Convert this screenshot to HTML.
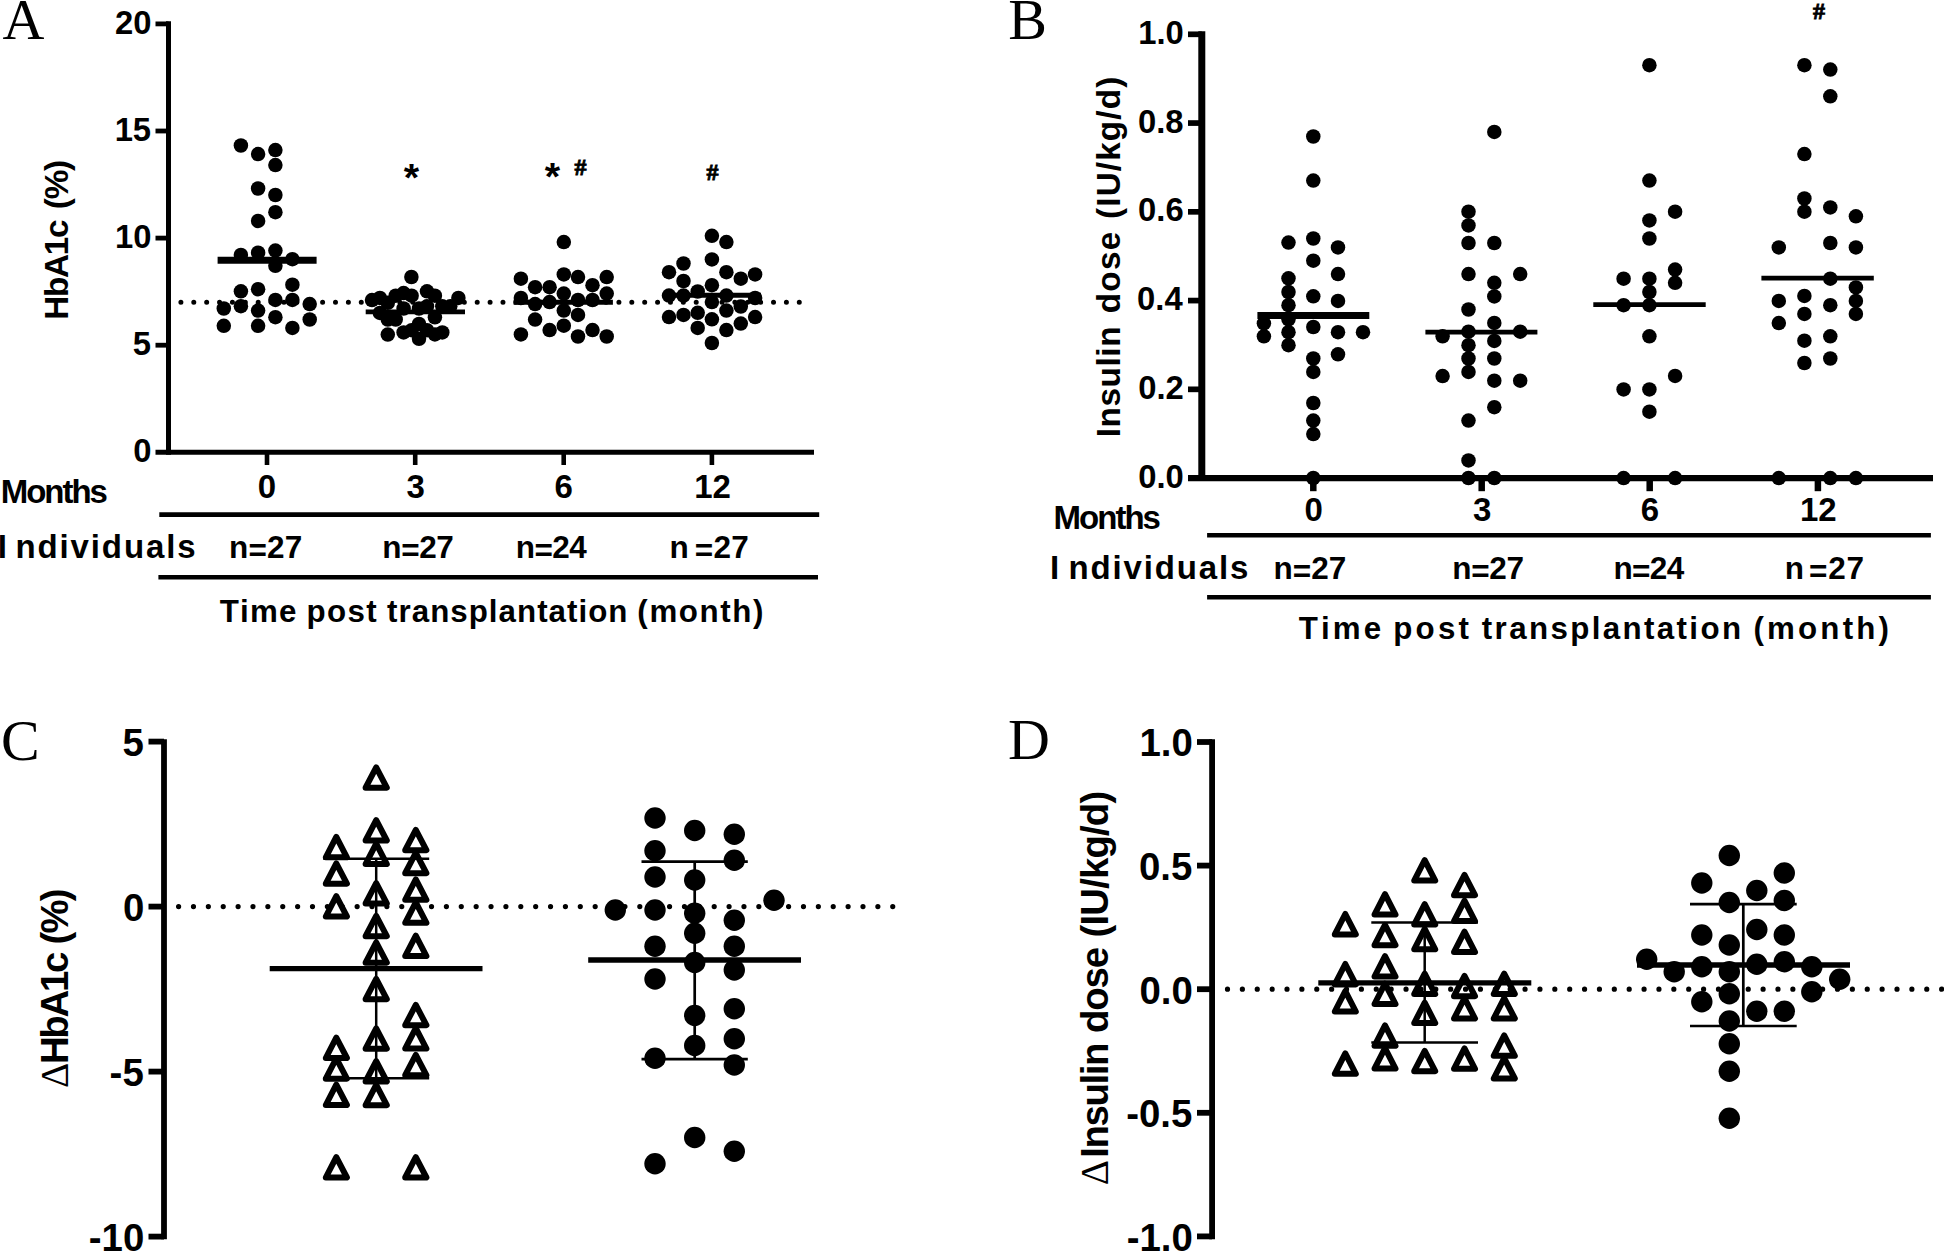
<!DOCTYPE html>
<html lang="en"><head><meta charset="utf-8"><title>Figure</title>
<style>
html,body{margin:0;padding:0;background:#fff}
svg{display:block}
text{fill:#000;font-kerning:none;white-space:pre}
line{stroke:#000}
</style></head><body>
<svg width="1944" height="1251" viewBox="0 0 1944 1251">
<rect width="1944" height="1251" fill="#fff"/>
<!-- Panel A -->
<text x="2.43" y="38.70" style="font-family:'Liberation Serif',serif;font-weight:normal;font-size:58px;letter-spacing:0.000px">A</text>
<line x1="168.50" y1="21.30" x2="168.50" y2="454.80" stroke-width="5"/>
<line x1="155.50" y1="452.30" x2="814.00" y2="452.30" stroke-width="5"/>
<line x1="155.50" y1="23.90" x2="168.50" y2="23.90" stroke-width="4.8"/>
<text x="115.06" y="34.00" style="font-family:'Liberation Sans',sans-serif;font-weight:bold;font-size:32.8px;letter-spacing:0.000px">20</text>
<line x1="155.50" y1="131.00" x2="168.50" y2="131.00" stroke-width="4.8"/>
<text x="114.63" y="141.10" style="font-family:'Liberation Sans',sans-serif;font-weight:bold;font-size:32.8px;letter-spacing:0.000px">15</text>
<line x1="155.50" y1="238.10" x2="168.50" y2="238.10" stroke-width="4.8"/>
<text x="115.06" y="248.20" style="font-family:'Liberation Sans',sans-serif;font-weight:bold;font-size:32.8px;letter-spacing:0.000px">10</text>
<line x1="155.50" y1="345.20" x2="168.50" y2="345.20" stroke-width="4.8"/>
<text x="132.87" y="355.30" style="font-family:'Liberation Sans',sans-serif;font-weight:bold;font-size:32.8px;letter-spacing:0.000px">5</text>
<text x="133.30" y="462.40" style="font-family:'Liberation Sans',sans-serif;font-weight:bold;font-size:32.8px;letter-spacing:0.000px">0</text>
<line x1="267.00" y1="452.30" x2="267.00" y2="465.00" stroke-width="4.6"/>
<line x1="415.20" y1="452.30" x2="415.20" y2="465.00" stroke-width="4.6"/>
<line x1="563.70" y1="452.30" x2="563.70" y2="465.00" stroke-width="4.6"/>
<line x1="711.90" y1="452.30" x2="711.90" y2="465.00" stroke-width="4.6"/>
<text transform="translate(68.20,0) rotate(-90)" y="0" style="font-family:'Liberation Sans',sans-serif;font-weight:bold;font-size:33.3px"><tspan x="-319.83" style="letter-spacing:-1.293px">HbA1c </tspan><tspan x="-209.26" style="letter-spacing:-1.185px">(%)</tspan></text>
<line x1="180.90" y1="302.20" x2="801.00" y2="302.20" stroke-width="5.0" stroke-linecap="round" stroke-dasharray="0 12.883"/>
<g><circle cx="240.9" cy="145.5" r="7.25"/><circle cx="258.1" cy="154.1" r="7.25"/><circle cx="275.4" cy="150.1" r="7.25"/><circle cx="275.4" cy="165.1" r="7.25"/><circle cx="258.1" cy="188.5" r="7.25"/><circle cx="275.4" cy="195.0" r="7.25"/><circle cx="275.4" cy="212.2" r="7.25"/><circle cx="258.1" cy="220.9" r="7.25"/><circle cx="240.9" cy="255.0" r="7.25"/><circle cx="258.1" cy="252.7" r="7.25"/><circle cx="275.4" cy="250.6" r="7.25"/><circle cx="292.4" cy="259.2" r="7.25"/><circle cx="275.4" cy="265.8" r="7.25"/><circle cx="292.4" cy="284.7" r="7.25"/><circle cx="258.1" cy="289.2" r="7.25"/><circle cx="240.9" cy="291.3" r="7.25"/><circle cx="275.4" cy="299.9" r="7.25"/><circle cx="292.4" cy="299.9" r="7.25"/><circle cx="309.7" cy="304.1" r="7.25"/><circle cx="240.9" cy="306.2" r="7.25"/><circle cx="223.8" cy="308.5" r="7.25"/><circle cx="258.1" cy="310.6" r="7.25"/><circle cx="275.4" cy="317.2" r="7.25"/><circle cx="309.7" cy="319.5" r="7.25"/><circle cx="223.8" cy="325.8" r="7.25"/><circle cx="258.1" cy="325.8" r="7.25"/><circle cx="292.4" cy="327.9" r="7.25"/><circle cx="411.4" cy="277.0" r="7.25"/><circle cx="403.6" cy="293.1" r="7.25"/><circle cx="395.7" cy="295.7" r="7.25"/><circle cx="411.6" cy="295.7" r="7.25"/><circle cx="379.9" cy="297.9" r="7.25"/><circle cx="372.0" cy="300.1" r="7.25"/><circle cx="427.0" cy="291.3" r="7.25"/><circle cx="434.9" cy="295.7" r="7.25"/><circle cx="458.4" cy="297.9" r="7.25"/><circle cx="387.8" cy="302.8" r="7.25"/><circle cx="403.6" cy="308.5" r="7.25"/><circle cx="419.0" cy="308.5" r="7.25"/><circle cx="427.0" cy="306.3" r="7.25"/><circle cx="442.3" cy="306.3" r="7.25"/><circle cx="450.3" cy="306.3" r="7.25"/><circle cx="379.9" cy="312.9" r="7.25"/><circle cx="387.8" cy="319.5" r="7.25"/><circle cx="395.7" cy="319.5" r="7.25"/><circle cx="434.9" cy="317.3" r="7.25"/><circle cx="419.0" cy="323.9" r="7.25"/><circle cx="387.8" cy="334.6" r="7.25"/><circle cx="403.6" cy="332.4" r="7.25"/><circle cx="411.6" cy="330.2" r="7.25"/><circle cx="419.0" cy="338.8" r="7.25"/><circle cx="427.0" cy="330.2" r="7.25"/><circle cx="434.9" cy="334.4" r="7.25"/><circle cx="442.3" cy="332.4" r="7.25"/><circle cx="563.8" cy="242.1" r="7.25"/><circle cx="520.9" cy="278.7" r="7.25"/><circle cx="563.8" cy="274.4" r="7.25"/><circle cx="578.0" cy="277.1" r="7.25"/><circle cx="606.7" cy="277.1" r="7.25"/><circle cx="535.1" cy="287.2" r="7.25"/><circle cx="549.6" cy="287.2" r="7.25"/><circle cx="592.5" cy="285.2" r="7.25"/><circle cx="563.8" cy="293.6" r="7.25"/><circle cx="606.7" cy="293.6" r="7.25"/><circle cx="520.9" cy="298.0" r="7.25"/><circle cx="578.0" cy="300.0" r="7.25"/><circle cx="592.5" cy="300.0" r="7.25"/><circle cx="549.6" cy="302.1" r="7.25"/><circle cx="535.1" cy="304.1" r="7.25"/><circle cx="563.8" cy="310.6" r="7.25"/><circle cx="578.0" cy="314.9" r="7.25"/><circle cx="535.1" cy="319.6" r="7.25"/><circle cx="563.8" cy="325.7" r="7.25"/><circle cx="549.6" cy="330.1" r="7.25"/><circle cx="592.5" cy="330.1" r="7.25"/><circle cx="520.9" cy="334.4" r="7.25"/><circle cx="578.0" cy="336.5" r="7.25"/><circle cx="606.7" cy="336.5" r="7.25"/><circle cx="711.9" cy="235.8" r="7.25"/><circle cx="726.4" cy="242.1" r="7.25"/><circle cx="711.9" cy="259.4" r="7.25"/><circle cx="683.5" cy="263.5" r="7.25"/><circle cx="669.0" cy="272.2" r="7.25"/><circle cx="726.4" cy="272.2" r="7.25"/><circle cx="755.1" cy="274.4" r="7.25"/><circle cx="740.8" cy="278.7" r="7.25"/><circle cx="683.5" cy="281.0" r="7.25"/><circle cx="711.9" cy="285.2" r="7.25"/><circle cx="697.7" cy="291.5" r="7.25"/><circle cx="669.0" cy="295.6" r="7.25"/><circle cx="683.5" cy="295.6" r="7.25"/><circle cx="726.4" cy="295.6" r="7.25"/><circle cx="755.1" cy="298.0" r="7.25"/><circle cx="711.9" cy="302.1" r="7.25"/><circle cx="740.8" cy="306.5" r="7.25"/><circle cx="726.4" cy="310.6" r="7.25"/><circle cx="697.7" cy="312.8" r="7.25"/><circle cx="683.5" cy="314.9" r="7.25"/><circle cx="669.0" cy="317.1" r="7.25"/><circle cx="755.1" cy="317.1" r="7.25"/><circle cx="711.9" cy="319.3" r="7.25"/><circle cx="740.8" cy="323.6" r="7.25"/><circle cx="697.7" cy="327.9" r="7.25"/><circle cx="726.4" cy="330.1" r="7.25"/><circle cx="711.9" cy="343.0" r="7.25"/></g>
<line x1="217.60" y1="260.20" x2="316.60" y2="260.20" stroke-width="7"/>
<line x1="365.70" y1="311.80" x2="465.00" y2="311.80" stroke-width="4.8"/>
<line x1="513.60" y1="302.20" x2="612.90" y2="302.20" stroke-width="4.9"/>
<line x1="663.00" y1="295.20" x2="761.00" y2="295.20" stroke-width="4.9"/>
<text x="403.78" y="190.90" style="font-family:'Liberation Sans',sans-serif;font-weight:bold;font-size:39.5px;letter-spacing:0.000px">*</text>
<text x="544.68" y="190.10" style="font-family:'Liberation Sans',sans-serif;font-weight:bold;font-size:39.5px;letter-spacing:0.000px">*</text>
<text x="574.58" y="175.40" style="font-family:'Liberation Serif',serif;font-weight:bold;stroke:#000;stroke-width:0.9px;font-size:24px;letter-spacing:0.000px">#</text>
<text x="706.48" y="179.90" style="font-family:'Liberation Serif',serif;font-weight:bold;stroke:#000;stroke-width:0.9px;font-size:24px;letter-spacing:0.000px">#</text>
<text x="257.85" y="498.30" style="font-family:'Liberation Sans',sans-serif;font-weight:bold;font-size:33px;letter-spacing:0.000px">0</text>
<text x="406.54" y="498.30" style="font-family:'Liberation Sans',sans-serif;font-weight:bold;font-size:33px;letter-spacing:0.000px">3</text>
<text x="554.52" y="498.30" style="font-family:'Liberation Sans',sans-serif;font-weight:bold;font-size:33px;letter-spacing:0.000px">6</text>
<text x="694.27" y="498.30" style="font-family:'Liberation Sans',sans-serif;font-weight:bold;font-size:33px;letter-spacing:0.000px">12</text>
<text x="0.69" y="502.50" style="font-family:'Liberation Sans',sans-serif;font-weight:bold;font-size:33px;letter-spacing:-2.009px">Months</text>
<line x1="159.30" y1="514.60" x2="819.20" y2="514.60" stroke-width="4.6"/>
<line x1="158.40" y1="577.20" x2="818.00" y2="577.20" stroke-width="4.6"/>
<text y="558.00" style="font-family:'Liberation Sans',sans-serif;font-weight:bold;font-size:33px"><tspan x="-2.21" style="letter-spacing:0.000px">I</tspan><tspan x="15.52" style="letter-spacing:1.870px">ndividuals</tspan></text>
<text x="229.02" y="558.00" style="font-family:'Liberation Sans',sans-serif;font-weight:bold;font-size:31.5px;letter-spacing:0.162px">n<tspan dy="3.2">=</tspan><tspan dy="-3.2">27</tspan></text>
<text x="382.32" y="558.00" style="font-family:'Liberation Sans',sans-serif;font-weight:bold;font-size:31.5px;letter-spacing:-0.405px">n<tspan dy="3.2">=</tspan><tspan dy="-3.2">27</tspan></text>
<text x="515.82" y="558.00" style="font-family:'Liberation Sans',sans-serif;font-weight:bold;font-size:31.5px;letter-spacing:-0.610px">n<tspan dy="3.2">=</tspan><tspan dy="-3.2">24</tspan></text>
<text y="558.00" style="font-family:'Liberation Sans',sans-serif;font-weight:bold;font-size:31.5px"><tspan x="669.52" style="letter-spacing:0.000px">n </tspan><tspan x="694.69" style="letter-spacing:0.279px"><tspan dy="3.2">=</tspan><tspan dy="-3.2">27</tspan></tspan></text>
<text y="622.40" style="font-family:'Liberation Sans',sans-serif;font-weight:bold;font-size:31.3px"><tspan x="219.75" style="letter-spacing:1.189px">Time </tspan><tspan x="306.44" style="letter-spacing:1.392px">post </tspan><tspan x="387.12" style="letter-spacing:1.018px">transplantation </tspan><tspan x="637.34" style="letter-spacing:1.627px">(month)</tspan></text>
<!-- Panel B -->
<text x="1008.33" y="38.70" style="font-family:'Liberation Serif',serif;font-weight:normal;font-size:58px;letter-spacing:0.000px">B</text>
<line x1="1201.80" y1="31.30" x2="1201.80" y2="481.10" stroke-width="7"/>
<line x1="1188.00" y1="478.10" x2="1933.00" y2="478.10" stroke-width="6.2"/>
<line x1="1188.00" y1="34.30" x2="1201.80" y2="34.30" stroke-width="5.7"/>
<text x="1138.25" y="43.90" style="font-family:'Liberation Sans',sans-serif;font-weight:bold;font-size:32.8px;letter-spacing:0.000px">1.0</text>
<line x1="1188.00" y1="123.06" x2="1201.80" y2="123.06" stroke-width="5.7"/>
<text x="1137.91" y="132.66" style="font-family:'Liberation Sans',sans-serif;font-weight:bold;font-size:32.8px;letter-spacing:0.000px">0.8</text>
<line x1="1188.00" y1="211.82" x2="1201.80" y2="211.82" stroke-width="5.7"/>
<text x="1138.09" y="221.42" style="font-family:'Liberation Sans',sans-serif;font-weight:bold;font-size:32.8px;letter-spacing:0.000px">0.6</text>
<line x1="1188.00" y1="300.58" x2="1201.80" y2="300.58" stroke-width="5.7"/>
<text x="1137.08" y="310.18" style="font-family:'Liberation Sans',sans-serif;font-weight:bold;font-size:32.8px;letter-spacing:0.000px">0.4</text>
<line x1="1188.00" y1="389.34" x2="1201.80" y2="389.34" stroke-width="5.7"/>
<text x="1138.22" y="398.94" style="font-family:'Liberation Sans',sans-serif;font-weight:bold;font-size:32.8px;letter-spacing:0.000px">0.2</text>
<text x="1138.25" y="487.70" style="font-family:'Liberation Sans',sans-serif;font-weight:bold;font-size:32.8px;letter-spacing:0.000px">0.0</text>
<line x1="1313.30" y1="478.10" x2="1313.30" y2="491.20" stroke-width="6.5"/>
<line x1="1481.70" y1="478.10" x2="1481.70" y2="491.20" stroke-width="6.5"/>
<line x1="1649.70" y1="478.10" x2="1649.70" y2="491.20" stroke-width="6.5"/>
<line x1="1817.90" y1="478.10" x2="1817.90" y2="491.20" stroke-width="6.5"/>
<text transform="translate(1119.80,0) rotate(-90)" y="0" style="font-family:'Liberation Sans',sans-serif;font-weight:bold;font-size:33.3px"><tspan x="-437.33" style="letter-spacing:0.599px">Insulin </tspan><tspan x="-313.27" style="letter-spacing:1.261px">dose </tspan><tspan x="-218.96" style="letter-spacing:1.129px">(IU/kg/d)</tspan></text>
<g><circle cx="1313.3" cy="136.5" r="7.25"/><circle cx="1313.3" cy="180.6" r="7.25"/><circle cx="1288.5" cy="242.6" r="7.25"/><circle cx="1313.3" cy="238.5" r="7.25"/><circle cx="1338.0" cy="247.4" r="7.25"/><circle cx="1313.3" cy="260.7" r="7.25"/><circle cx="1288.5" cy="278.3" r="7.25"/><circle cx="1338.0" cy="274.1" r="7.25"/><circle cx="1288.5" cy="292.0" r="7.25"/><circle cx="1313.3" cy="296.3" r="7.25"/><circle cx="1338.0" cy="300.9" r="7.25"/><circle cx="1288.5" cy="305.2" r="7.25"/><circle cx="1288.5" cy="319.3" r="7.25"/><circle cx="1263.9" cy="323.3" r="7.25"/><circle cx="1313.3" cy="327.0" r="7.25"/><circle cx="1288.5" cy="332.2" r="7.25"/><circle cx="1338.0" cy="332.2" r="7.25"/><circle cx="1363.0" cy="332.2" r="7.25"/><circle cx="1263.9" cy="336.3" r="7.25"/><circle cx="1288.5" cy="345.2" r="7.25"/><circle cx="1338.0" cy="354.3" r="7.25"/><circle cx="1313.3" cy="358.5" r="7.25"/><circle cx="1313.3" cy="371.9" r="7.25"/><circle cx="1313.3" cy="403.0" r="7.25"/><circle cx="1313.3" cy="420.6" r="7.25"/><circle cx="1313.3" cy="434.1" r="7.25"/><circle cx="1313.3" cy="478.0" r="7.25"/><circle cx="1494.3" cy="131.9" r="7.25"/><circle cx="1468.5" cy="211.7" r="7.25"/><circle cx="1468.5" cy="225.4" r="7.25"/><circle cx="1468.5" cy="243.0" r="7.25"/><circle cx="1494.3" cy="243.0" r="7.25"/><circle cx="1468.5" cy="274.1" r="7.25"/><circle cx="1520.2" cy="274.1" r="7.25"/><circle cx="1494.3" cy="282.8" r="7.25"/><circle cx="1494.3" cy="296.4" r="7.25"/><circle cx="1468.5" cy="309.5" r="7.25"/><circle cx="1494.3" cy="322.9" r="7.25"/><circle cx="1468.5" cy="331.7" r="7.25"/><circle cx="1520.2" cy="331.7" r="7.25"/><circle cx="1442.6" cy="336.3" r="7.25"/><circle cx="1494.3" cy="340.9" r="7.25"/><circle cx="1468.5" cy="345.2" r="7.25"/><circle cx="1468.5" cy="358.5" r="7.25"/><circle cx="1494.3" cy="358.5" r="7.25"/><circle cx="1468.5" cy="371.9" r="7.25"/><circle cx="1442.6" cy="376.1" r="7.25"/><circle cx="1494.3" cy="380.7" r="7.25"/><circle cx="1520.2" cy="380.7" r="7.25"/><circle cx="1494.3" cy="407.2" r="7.25"/><circle cx="1468.5" cy="420.6" r="7.25"/><circle cx="1468.5" cy="460.4" r="7.25"/><circle cx="1468.5" cy="478.0" r="7.25"/><circle cx="1494.3" cy="478.0" r="7.25"/><circle cx="1649.4" cy="65.2" r="7.25"/><circle cx="1649.4" cy="180.6" r="7.25"/><circle cx="1675.1" cy="211.7" r="7.25"/><circle cx="1649.4" cy="220.4" r="7.25"/><circle cx="1649.4" cy="238.5" r="7.25"/><circle cx="1675.1" cy="269.6" r="7.25"/><circle cx="1623.6" cy="278.7" r="7.25"/><circle cx="1649.4" cy="278.7" r="7.25"/><circle cx="1675.1" cy="282.8" r="7.25"/><circle cx="1649.4" cy="292.0" r="7.25"/><circle cx="1623.6" cy="305.2" r="7.25"/><circle cx="1649.4" cy="305.2" r="7.25"/><circle cx="1649.4" cy="336.3" r="7.25"/><circle cx="1675.1" cy="375.9" r="7.25"/><circle cx="1623.6" cy="389.4" r="7.25"/><circle cx="1649.4" cy="389.4" r="7.25"/><circle cx="1649.4" cy="411.7" r="7.25"/><circle cx="1623.6" cy="478.1" r="7.25"/><circle cx="1675.1" cy="478.1" r="7.25"/><circle cx="1804.4" cy="65.2" r="7.25"/><circle cx="1830.3" cy="69.6" r="7.25"/><circle cx="1830.3" cy="96.3" r="7.25"/><circle cx="1804.4" cy="154.1" r="7.25"/><circle cx="1804.4" cy="198.5" r="7.25"/><circle cx="1830.3" cy="207.4" r="7.25"/><circle cx="1804.4" cy="211.7" r="7.25"/><circle cx="1855.9" cy="216.3" r="7.25"/><circle cx="1778.8" cy="247.4" r="7.25"/><circle cx="1830.3" cy="243.0" r="7.25"/><circle cx="1855.9" cy="247.4" r="7.25"/><circle cx="1830.3" cy="278.7" r="7.25"/><circle cx="1855.9" cy="287.4" r="7.25"/><circle cx="1804.4" cy="295.9" r="7.25"/><circle cx="1778.8" cy="300.9" r="7.25"/><circle cx="1855.9" cy="300.9" r="7.25"/><circle cx="1830.3" cy="305.2" r="7.25"/><circle cx="1804.4" cy="313.9" r="7.25"/><circle cx="1855.9" cy="313.9" r="7.25"/><circle cx="1778.8" cy="323.1" r="7.25"/><circle cx="1830.3" cy="336.3" r="7.25"/><circle cx="1804.4" cy="340.7" r="7.25"/><circle cx="1830.3" cy="358.5" r="7.25"/><circle cx="1804.4" cy="363.0" r="7.25"/><circle cx="1778.8" cy="478.1" r="7.25"/><circle cx="1830.3" cy="478.1" r="7.25"/><circle cx="1855.9" cy="478.1" r="7.25"/></g>
<line x1="1257.40" y1="315.50" x2="1369.30" y2="315.50" stroke-width="7"/>
<line x1="1425.40" y1="332.20" x2="1537.40" y2="332.20" stroke-width="4.8"/>
<line x1="1593.30" y1="304.60" x2="1705.70" y2="304.60" stroke-width="4.8"/>
<line x1="1761.40" y1="278.10" x2="1873.80" y2="278.10" stroke-width="4.8"/>
<text x="1812.98" y="19.10" style="font-family:'Liberation Serif',serif;font-weight:bold;stroke:#000;stroke-width:0.9px;font-size:24px;letter-spacing:0.000px">#</text>
<text x="1304.55" y="521.00" style="font-family:'Liberation Sans',sans-serif;font-weight:bold;font-size:33px;letter-spacing:0.000px">0</text>
<text x="1472.94" y="521.00" style="font-family:'Liberation Sans',sans-serif;font-weight:bold;font-size:33px;letter-spacing:0.000px">3</text>
<text x="1640.82" y="521.00" style="font-family:'Liberation Sans',sans-serif;font-weight:bold;font-size:33px;letter-spacing:0.000px">6</text>
<text x="1799.97" y="521.00" style="font-family:'Liberation Sans',sans-serif;font-weight:bold;font-size:33px;letter-spacing:0.000px">12</text>
<text x="1053.59" y="528.90" style="font-family:'Liberation Sans',sans-serif;font-weight:bold;font-size:33px;letter-spacing:-1.989px">Months</text>
<line x1="1207.10" y1="535.30" x2="1930.90" y2="535.30" stroke-width="4.5"/>
<line x1="1207.10" y1="597.30" x2="1930.90" y2="597.30" stroke-width="4.5"/>
<text y="578.80" style="font-family:'Liberation Sans',sans-serif;font-weight:bold;font-size:33px"><tspan x="1049.89" style="letter-spacing:0.000px">I</tspan><tspan x="1068.62" style="letter-spacing:1.826px">ndividuals</tspan></text>
<text x="1273.62" y="578.80" style="font-family:'Liberation Sans',sans-serif;font-weight:bold;font-size:31.5px;letter-spacing:-0.038px">n<tspan dy="3.2">=</tspan><tspan dy="-3.2">27</tspan></text>
<text x="1452.22" y="578.80" style="font-family:'Liberation Sans',sans-serif;font-weight:bold;font-size:31.5px;letter-spacing:-0.305px">n<tspan dy="3.2">=</tspan><tspan dy="-3.2">27</tspan></text>
<text x="1613.42" y="578.80" style="font-family:'Liberation Sans',sans-serif;font-weight:bold;font-size:31.5px;letter-spacing:-0.643px">n<tspan dy="3.2">=</tspan><tspan dy="-3.2">24</tspan></text>
<text y="578.80" style="font-family:'Liberation Sans',sans-serif;font-weight:bold;font-size:31.5px"><tspan x="1784.72" style="letter-spacing:0.000px">n </tspan><tspan x="1808.99" style="letter-spacing:0.829px"><tspan dy="3.2">=</tspan><tspan dy="-3.2">27</tspan></tspan></text>
<text y="639.00" style="font-family:'Liberation Sans',sans-serif;font-weight:bold;font-size:31.3px"><tspan x="1298.85" style="letter-spacing:3.089px">Time </tspan><tspan x="1393.14" style="letter-spacing:3.259px">post </tspan><tspan x="1481.82" style="letter-spacing:2.368px">transplantation </tspan><tspan x="1753.44" style="letter-spacing:3.177px">(month)</tspan></text>
<!-- Panel C -->
<text x="0.92" y="760.00" style="font-family:'Liberation Serif',serif;font-weight:normal;font-size:58px;letter-spacing:0.000px">C</text>
<line x1="164.00" y1="739.20" x2="164.00" y2="1239.20" stroke-width="5.8"/>
<line x1="148.50" y1="741.60" x2="164.00" y2="741.60" stroke-width="5.8"/>
<text x="122.41" y="755.80" style="font-family:'Liberation Sans',sans-serif;font-weight:bold;font-size:38.4px;letter-spacing:0.000px">5</text>
<line x1="148.50" y1="906.60" x2="164.00" y2="906.60" stroke-width="5.8"/>
<text x="122.92" y="920.80" style="font-family:'Liberation Sans',sans-serif;font-weight:bold;font-size:38.4px;letter-spacing:0.000px">0</text>
<line x1="148.50" y1="1071.60" x2="164.00" y2="1071.60" stroke-width="5.8"/>
<text x="109.62" y="1085.80" style="font-family:'Liberation Sans',sans-serif;font-weight:bold;font-size:38.4px;letter-spacing:0.000px">-5</text>
<line x1="148.50" y1="1236.60" x2="164.00" y2="1236.60" stroke-width="5.8"/>
<text x="88.77" y="1250.80" style="font-family:'Liberation Sans',sans-serif;font-weight:bold;font-size:38.4px;letter-spacing:0.000px">-10</text>
<text transform="translate(68.00,0) rotate(-90)" y="0" style="font-family:'Liberation Sans',sans-serif;font-weight:bold;font-size:38.4px"><tspan x="-1087.90" style="font-family:'Liberation Serif',serif;font-weight:normal;font-size:39.4px;letter-spacing:0.000px">Δ</tspan><tspan x="-1064.07" style="letter-spacing:-2.309px">HbA1c </tspan><tspan x="-944.51" style="letter-spacing:-1.897px">(%)</tspan></text>
<line x1="178.60" y1="906.60" x2="893.00" y2="906.60" stroke-width="5.2" stroke-linecap="round" stroke-dasharray="0 14.878"/>
<g fill="none" stroke="#000" stroke-width="6.0" stroke-linejoin="round"><path d="M376.2 767.3L386.8 787.7H365.6Z"/><path d="M376.2 820.1L386.8 840.5H365.6Z"/><path d="M376.2 843.7L386.8 864.1H365.6Z"/><path d="M376.2 883.1L386.8 903.5H365.6Z"/><path d="M376.2 915.8L386.8 936.2H365.6Z"/><path d="M376.2 942.3L386.8 962.7H365.6Z"/><path d="M376.2 978.8L386.8 999.2H365.6Z"/><path d="M376.2 1028.3L386.8 1048.7H365.6Z"/><path d="M376.2 1061.1L386.8 1081.5H365.6Z"/><path d="M376.2 1084.8L386.8 1105.2H365.6Z"/><path d="M336.3 836.9L346.9 857.3H325.8Z"/><path d="M336.3 863.3L346.9 883.7H325.8Z"/><path d="M336.3 896.1L346.9 916.5H325.8Z"/><path d="M336.3 1037.6L346.9 1058.0H325.8Z"/><path d="M336.3 1058.3L346.9 1078.7H325.8Z"/><path d="M336.3 1084.6L346.9 1105.0H325.8Z"/><path d="M336.3 1157.1L346.9 1177.5H325.8Z"/><path d="M415.8 829.8L426.4 850.2H405.2Z"/><path d="M415.8 852.8L426.4 873.2H405.2Z"/><path d="M415.8 879.4L426.4 899.8H405.2Z"/><path d="M415.8 902.4L426.4 922.8H405.2Z"/><path d="M415.8 935.7L426.4 956.1H405.2Z"/><path d="M415.8 1004.8L426.4 1025.2H405.2Z"/><path d="M415.8 1028.2L426.4 1048.6H405.2Z"/><path d="M415.8 1054.8L426.4 1075.2H405.2Z"/><path d="M415.8 1157.1L426.4 1177.5H405.2Z"/></g>
<line x1="323.30" y1="858.70" x2="429.20" y2="858.70" stroke-width="2.5"/>
<line x1="323.30" y1="1078.30" x2="429.20" y2="1078.30" stroke-width="2.5"/>
<line x1="376.20" y1="858.70" x2="376.20" y2="1078.30" stroke-width="2.5"/>
<line x1="269.70" y1="968.70" x2="482.50" y2="968.70" stroke-width="5.3"/>
<g><circle cx="655.0" cy="818.0" r="10.7"/><circle cx="694.7" cy="830.5" r="10.7"/><circle cx="734.3" cy="834.2" r="10.7"/><circle cx="655.0" cy="850.8" r="10.7"/><circle cx="734.3" cy="860.3" r="10.7"/><circle cx="655.0" cy="877.0" r="10.7"/><circle cx="694.7" cy="880.0" r="10.7"/><circle cx="774.0" cy="900.3" r="10.7"/><circle cx="615.3" cy="910.0" r="10.7"/><circle cx="655.0" cy="910.0" r="10.7"/><circle cx="694.7" cy="913.3" r="10.7"/><circle cx="734.3" cy="920.3" r="10.7"/><circle cx="694.7" cy="933.3" r="10.7"/><circle cx="655.0" cy="946.2" r="10.7"/><circle cx="734.3" cy="946.2" r="10.7"/><circle cx="694.7" cy="962.5" r="10.7"/><circle cx="734.3" cy="970.0" r="10.7"/><circle cx="655.0" cy="979.0" r="10.7"/><circle cx="734.3" cy="1008.8" r="10.7"/><circle cx="694.7" cy="1015.5" r="10.7"/><circle cx="734.3" cy="1038.7" r="10.7"/><circle cx="694.7" cy="1045.5" r="10.7"/><circle cx="655.0" cy="1058.3" r="10.7"/><circle cx="734.3" cy="1065.0" r="10.7"/><circle cx="694.7" cy="1137.5" r="10.7"/><circle cx="734.3" cy="1151.2" r="10.7"/><circle cx="655.0" cy="1163.8" r="10.7"/></g>
<line x1="641.50" y1="861.70" x2="747.80" y2="861.70" stroke-width="2.7"/>
<line x1="641.50" y1="1059.20" x2="747.80" y2="1059.20" stroke-width="2.7"/>
<line x1="694.70" y1="861.70" x2="694.70" y2="1059.20" stroke-width="2.7"/>
<line x1="588.20" y1="960.00" x2="801.00" y2="960.00" stroke-width="5.3"/>
<!-- Panel D -->
<text x="1008.03" y="759.40" style="font-family:'Liberation Serif',serif;font-weight:normal;font-size:58px;letter-spacing:0.000px">D</text>
<line x1="1212.10" y1="739.20" x2="1212.10" y2="1239.20" stroke-width="5.8"/>
<line x1="1197.00" y1="742.00" x2="1212.10" y2="742.00" stroke-width="5.8"/>
<text x="1139.49" y="756.40" style="font-family:'Liberation Sans',sans-serif;font-weight:bold;font-size:38.4px;letter-spacing:0.000px">1.0</text>
<line x1="1197.00" y1="865.60" x2="1212.10" y2="865.60" stroke-width="5.8"/>
<text x="1138.99" y="880.00" style="font-family:'Liberation Sans',sans-serif;font-weight:bold;font-size:38.4px;letter-spacing:0.000px">0.5</text>
<line x1="1197.00" y1="989.20" x2="1212.10" y2="989.20" stroke-width="5.8"/>
<text x="1139.49" y="1003.60" style="font-family:'Liberation Sans',sans-serif;font-weight:bold;font-size:38.4px;letter-spacing:0.000px">0.0</text>
<line x1="1197.00" y1="1112.80" x2="1212.10" y2="1112.80" stroke-width="5.8"/>
<text x="1126.20" y="1127.20" style="font-family:'Liberation Sans',sans-serif;font-weight:bold;font-size:38.4px;letter-spacing:0.000px">-0.5</text>
<line x1="1197.00" y1="1236.40" x2="1212.10" y2="1236.40" stroke-width="5.8"/>
<text x="1126.71" y="1250.80" style="font-family:'Liberation Sans',sans-serif;font-weight:bold;font-size:38.4px;letter-spacing:0.000px">-1.0</text>
<text transform="translate(1108.30,0) rotate(-90)" y="0" style="font-family:'Liberation Sans',sans-serif;font-weight:bold;font-size:38.4px"><tspan x="-1185.20" style="font-family:'Liberation Serif',serif;font-weight:normal;font-size:39.4px;letter-spacing:0.000px">Δ</tspan><tspan x="-1157.77" style="letter-spacing:-1.430px">Insulin </tspan><tspan x="-1033.08" style="letter-spacing:-1.179px">dose </tspan><tspan x="-937.41" style="letter-spacing:-0.870px">(IU/kg/d)</tspan></text>
<line x1="1227.50" y1="989.20" x2="1944.00" y2="989.20" stroke-width="5.2" stroke-linecap="round" stroke-dasharray="0 14.878"/>
<g fill="none" stroke="#000" stroke-width="6.0" stroke-linejoin="round"><path d="M1424.7 860.2L1435.2 880.6H1414.2Z"/><path d="M1424.7 904.2L1435.2 924.6H1414.2Z"/><path d="M1424.7 928.9L1435.2 949.3H1414.2Z"/><path d="M1424.7 973.6L1435.2 994.0H1414.2Z"/><path d="M1424.7 1002.7L1435.2 1023.1H1414.2Z"/><path d="M1424.7 1050.8L1435.2 1071.2H1414.2Z"/><path d="M1464.5 874.8L1475.0 895.2H1454.0Z"/><path d="M1464.5 900.7L1475.0 921.1H1454.0Z"/><path d="M1464.5 931.7L1475.0 952.1H1454.0Z"/><path d="M1464.5 975.8L1475.0 996.2H1454.0Z"/><path d="M1464.5 998.1L1475.0 1018.5H1454.0Z"/><path d="M1464.5 1048.4L1475.0 1068.8H1454.0Z"/><path d="M1385.0 894.2L1395.5 914.6H1374.5Z"/><path d="M1385.0 924.8L1395.5 945.2H1374.5Z"/><path d="M1385.0 956.2L1395.5 976.6H1374.5Z"/><path d="M1385.0 983.6L1395.5 1004.0H1374.5Z"/><path d="M1385.0 1025.4L1395.5 1045.8H1374.5Z"/><path d="M1385.0 1048.2L1395.5 1068.6H1374.5Z"/><path d="M1345.3 914.0L1355.8 934.4H1334.8Z"/><path d="M1345.3 964.0L1355.8 984.4H1334.8Z"/><path d="M1345.3 991.1L1355.8 1011.5H1334.8Z"/><path d="M1345.3 1053.4L1355.8 1073.8H1334.8Z"/><path d="M1504.2 973.6L1514.8 994.0H1493.7Z"/><path d="M1504.2 998.1L1514.8 1018.5H1493.7Z"/><path d="M1504.2 1035.4L1514.8 1055.8H1493.7Z"/><path d="M1504.2 1058.1L1514.8 1078.5H1493.7Z"/></g>
<line x1="1371.30" y1="922.50" x2="1478.00" y2="922.50" stroke-width="2.5"/>
<line x1="1371.30" y1="1042.50" x2="1478.00" y2="1042.50" stroke-width="2.5"/>
<line x1="1424.70" y1="922.50" x2="1424.70" y2="1042.50" stroke-width="2.5"/>
<line x1="1318.30" y1="982.80" x2="1531.30" y2="982.80" stroke-width="5.3"/>
<g><circle cx="1729.3" cy="855.5" r="10.7"/><circle cx="1784.3" cy="873.0" r="10.7"/><circle cx="1701.8" cy="883.0" r="10.7"/><circle cx="1756.8" cy="890.5" r="10.7"/><circle cx="1729.3" cy="902.5" r="10.7"/><circle cx="1784.3" cy="900.5" r="10.7"/><circle cx="1756.8" cy="929.5" r="10.7"/><circle cx="1701.8" cy="935.0" r="10.7"/><circle cx="1784.3" cy="935.0" r="10.7"/><circle cx="1729.3" cy="945.0" r="10.7"/><circle cx="1646.7" cy="959.2" r="10.7"/><circle cx="1784.3" cy="961.7" r="10.7"/><circle cx="1756.8" cy="964.2" r="10.7"/><circle cx="1701.8" cy="966.7" r="10.7"/><circle cx="1811.8" cy="966.7" r="10.7"/><circle cx="1674.2" cy="971.7" r="10.7"/><circle cx="1729.3" cy="971.7" r="10.7"/><circle cx="1839.7" cy="979.2" r="10.7"/><circle cx="1811.8" cy="991.7" r="10.7"/><circle cx="1729.3" cy="993.8" r="10.7"/><circle cx="1701.8" cy="1001.7" r="10.7"/><circle cx="1756.8" cy="1011.3" r="10.7"/><circle cx="1784.3" cy="1011.3" r="10.7"/><circle cx="1729.3" cy="1021.0" r="10.7"/><circle cx="1729.3" cy="1043.7" r="10.7"/><circle cx="1729.3" cy="1071.2" r="10.7"/><circle cx="1729.3" cy="1118.3" r="10.7"/></g>
<line x1="1690.00" y1="904.20" x2="1796.70" y2="904.20" stroke-width="2.7"/>
<line x1="1690.00" y1="1026.00" x2="1796.70" y2="1026.00" stroke-width="2.7"/>
<line x1="1743.30" y1="904.20" x2="1743.30" y2="1026.00" stroke-width="2.7"/>
<line x1="1637.00" y1="965.00" x2="1850.00" y2="965.00" stroke-width="5.3"/>
</svg>
</body></html>
